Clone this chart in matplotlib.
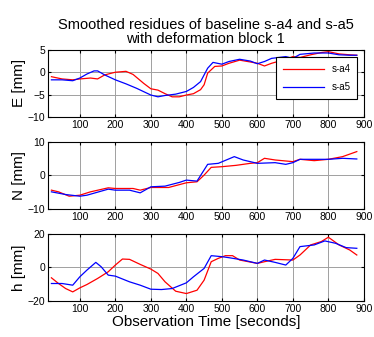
import numpy as np
import matplotlib.pyplot as plt

plt.rcParams['font.family'] = ['Liberation Sans', 'DejaVu Sans']

# East component [mm]
t_e_a4 = [20, 50, 80, 100, 130, 150, 170, 200, 230, 250, 280, 300, 320, 340, 360, 380, 400, 420, 440, 450,
          460, 480, 500, 520, 550, 580, 600, 620, 640, 680, 700, 720, 750, 780, 800, 830, 860, 880]
e_a4 = [-1.0, -1.5, -1.7, -1.5, -1.3, -1.5, -0.6, 0.0, 0.2, -0.5, -2.5, -3.7, -4.0, -4.8, -5.5, -5.5, -5.1, -4.8, -3.9, -2.8,
        -0.2, 1.3, 1.4, 2.0, 2.7, 2.3, 2.0, 1.4, 2.0, 2.9, 3.5, 3.3, 3.9, 4.4, 4.6, 4.1, 3.9, 3.8]
t_e_a5 = [20, 50, 80, 100, 120, 140, 150, 170, 200, 230, 260, 300, 320, 340, 370, 400, 420, 440, 460, 475,
          500, 520, 550, 580, 600, 620, 640, 680, 700, 720, 760, 800, 830, 860, 880]
e_a5 = [-1.7, -1.7, -1.9, -1.3, -0.4, 0.3, 0.3, -0.6, -1.7, -2.6, -3.6, -5.1, -5.5, -5.2, -4.9, -4.3, -3.4, -2.1, 0.9, 2.2,
        1.8, 2.4, 2.9, 2.5, 1.9, 2.4, 3.1, 3.5, 3.1, 4.0, 4.3, 4.3, 3.9, 3.8, 3.8]

# North component [mm]
t_n_a4 = [20, 40, 70, 100, 130, 180, 200, 250, 270, 300, 350, 400, 430, 450, 470, 500, 540, 580, 600, 620,
          650, 700, 720, 760, 800, 840, 880]
n_a4 = [-4.4, -4.9, -6.2, -5.9, -4.9, -3.7, -3.9, -3.9, -4.4, -3.6, -3.6, -2.2, -1.9, 0.1, 2.4, 2.6, 3.0, 3.6, 3.8, 5.1,
        4.6, 4.1, 4.8, 4.4, 4.8, 5.6, 7.1]
t_n_a5 = [20, 60, 100, 120, 180, 200, 240, 270, 300, 340, 380, 400, 430, 460, 490, 535, 560, 600, 650, 680,
          700, 720, 760, 800, 840, 880]
n_a5 = [-4.9, -5.7, -6.2, -5.9, -4.1, -4.4, -4.4, -5.2, -3.4, -3.2, -2.1, -1.4, -1.7, 3.3, 3.6, 5.6, 4.6, 3.6, 3.8, 3.3,
        3.8, 4.8, 4.8, 4.8, 5.1, 4.9]

# Height component [mm]
t_h_a4 = [20, 40, 60, 80, 100, 120, 150, 180, 200, 220, 240, 270, 300, 320, 340, 370, 400, 430, 450, 470,
          490, 510, 530, 550, 600, 620, 650, 700, 720, 750, 780, 800, 830, 860, 880]
h_a4 = [-6.2, -9.6, -12.6, -14.6, -12.2, -10.2, -6.6, -2.6, 1.4, 5.0, 4.8, 1.8, -1.0, -3.6, -8.6, -14.2, -15.6, -13.6, -7.6, 3.4,
        5.4, 7.0, 7.0, 4.4, 2.4, 3.4, 4.8, 4.4, 7.4, 13.4, 15.4, 18.0, 13.4, 10.4, 7.4]
t_h_a5 = [20, 50, 80, 100, 120, 145, 160, 180, 200, 240, 270, 300, 330, 360, 400, 420, 450, 470, 500, 520,
          560, 600, 620, 650, 680, 700, 720, 760, 790, 820, 850, 880]
h_a5 = [-9.6, -9.6, -10.6, -5.6, -1.6, 3.0, 0.4, -4.6, -5.2, -8.6, -10.6, -13.0, -13.2, -12.6, -9.2, -5.6, -0.6, 7.0, 6.4, 5.8,
        4.4, 2.4, 4.4, 3.0, 1.4, 5.4, 12.4, 13.4, 15.8, 14.4, 11.8, 11.4]

panels = [
    ("E [mm]", t_e_a4, e_a4, t_e_a5, e_a5, [-10, -5, 0, 5]),
    ("N [mm]", t_n_a4, n_a4, t_n_a5, n_a5, [-10, 0, 10]),
    ("h [mm]", t_h_a4, h_a4, t_h_a5, h_a5, [-20, 0, 20]),
]
xticks = [100, 200, 300, 400, 500, 600, 700, 800, 900]

fig = plt.figure(figsize=(3.74, 3.37), dpi=100)
bottoms = [0.653, 0.380, 0.107]

for i, (ylab, ta, ya, tb, yb, yt) in enumerate(panels):
    ax = fig.add_axes([0.128, bottoms[i], 0.845, 0.199])
    ax.plot(ta, ya, color='red', lw=0.9, label='s-a4')
    ax.plot(tb, yb, color='blue', lw=0.9, label='s-a5')
    ax.set_xlim(10, 900)
    ax.set_ylim(yt[0], yt[-1])
    ax.set_xticks(xticks)
    ax.set_yticks(yt)
    ax.grid(True, color='#a0a0a0', lw=0.7)
    ax.tick_params(direction='in', top=True, right=True, labelsize=7.5, length=2.5, pad=2)
    ax.set_ylabel(ylab, fontsize=11, labelpad=1)
    for s in ax.spines.values():
        s.set_linewidth(0.8)
    if i == 0:
        ax.set_title("Smoothed residues of baseline s-a4 and s-a5\nwith deformation block 1",
                     fontsize=10.5, linespacing=1.0, pad=5)
        leg = ax.legend(loc='upper right', fontsize=7, frameon=True, fancybox=False,
                        edgecolor='black', framealpha=1, handlelength=4.2, borderpad=0.7,
                        labelspacing=0.8, handletextpad=0.8, bbox_to_anchor=(0.995, 0.96))
        leg.get_frame().set_linewidth(0.8)
    if i == 2:
        ax.set_xlabel("Observation Time [seconds]", fontsize=11, labelpad=1)

fig.savefig("out.png", dpi=100)
